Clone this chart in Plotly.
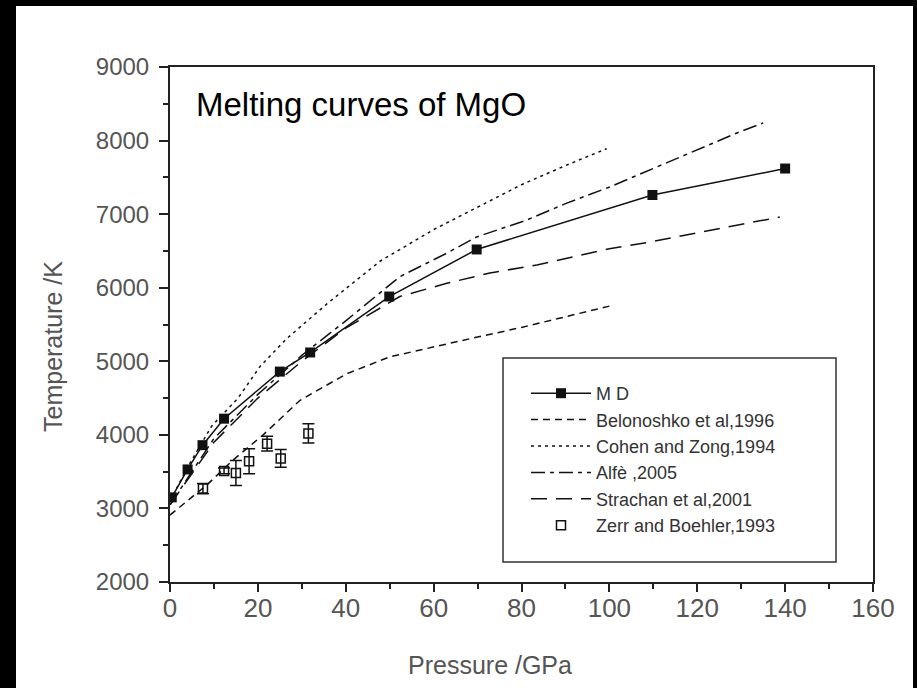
import plotly.graph_objects as go

# ---------------- data ----------------
md_p = [0.4, 4.0, 7.4, 12.3, 25.0, 31.9, 49.9, 69.8, 109.8, 140.0]
md_t = [3150, 3530, 3860, 4220, 4860, 5120, 5880, 6520, 7260, 7620]

bel_p = [0, 8.4, 14.4, 21.2, 29.6, 40.2, 50, 60, 70, 80, 90, 100]
bel_t = [2910, 3320, 3660, 4000, 4470, 4830, 5060, 5200, 5330, 5460, 5600, 5750]

coh_p = [0, 4, 9.5, 15.5, 20.5, 26.6, 35.7, 47.8, 60, 70, 80, 90, 99.4]
coh_t = [3100, 3560, 4120, 4500, 4930, 5310, 5780, 6360, 6790, 7100, 7400, 7660, 7890]

alf_p = [0, 10, 20, 30, 40, 52.3, 63, 69.8, 81.2, 90.3, 100.1, 110, 119.9, 129.7, 135]
alf_t = [3050, 3950, 4550, 5080, 5550, 6150, 6470, 6690, 6920, 7150, 7370, 7620, 7870, 8120, 8240]

str_p = [0, 10, 20, 30, 40, 52.3, 63, 72.8, 83.5, 91.8, 100, 109.2, 119.1, 129, 138.8]
str_t = [3050, 3900, 4500, 5000, 5450, 5880, 6060, 6200, 6310, 6420, 6530, 6620, 6740, 6850, 6960]

zer_p = [7.5, 12.3, 15.0, 18.0, 22.1, 25.2, 31.5]
zer_t = [3270, 3510, 3480, 3640, 3880, 3680, 4020]
zer_e = [70, 40, 170, 170, 100, 120, 130]

x_ticks = [0, 20, 40, 60, 80, 100, 120, 140, 160]
y_ticks = [2000, 3000, 4000, 5000, 6000, 7000, 8000, 9000]

title_text = "Melting curves of MgO"
x_title = "Pressure /GPa"
y_title = "Temperature /K"

# ---------------- figure ----------------
INK = "#111111"
SANS = "Liberation Sans, Arial, sans-serif"
fig = go.Figure()

fig.add_trace(go.Scatter(
    x=md_p, y=md_t, name="M D", mode="lines+markers",
    line=dict(color=INK, width=1.5),
    marker=dict(symbol="square", size=10, color=INK)))
fig.add_trace(go.Scatter(
    x=bel_p, y=bel_t, name="Belonoshko et al,1996", mode="lines",
    line=dict(color=INK, width=1.5, dash="7px,5px")))
fig.add_trace(go.Scatter(
    x=coh_p, y=coh_t, name="Cohen and Zong,1994", mode="lines",
    line=dict(color=INK, width=1.5, dash="3px,4px")))
fig.add_trace(go.Scatter(
    x=alf_p, y=alf_t, name="Alfè ,2005", mode="lines",
    line=dict(color=INK, width=1.5, dash="14px,5px,4px,5px")))
fig.add_trace(go.Scatter(
    x=str_p, y=str_t, name="Strachan et al,2001", mode="lines",
    line=dict(color=INK, width=1.5, dash="16px,9px")))
fig.add_trace(go.Scatter(
    x=zer_p, y=zer_t, name="Zerr and Boehler,1993", mode="markers",
    marker=dict(symbol="square-open", size=9, color=INK, line=dict(width=1.5)),
    error_y=dict(type="data", array=zer_e, visible=True, color=INK,
                 thickness=1.5, width=6)))

fig.update_xaxes(
    range=[0, 160], tickvals=x_ticks, ticktext=[str(v) for v in x_ticks],
    showgrid=False, zeroline=False, showline=True, linecolor="#222", linewidth=2,
    mirror=True, ticks="outside", ticklen=8, tickwidth=1.5, tickcolor="#222",
    minor=dict(ticks="outside", ticklen=5, dtick=10, tickwidth=1.5, tickcolor="#222"),
    tickfont=dict(family=SANS, size=26, color="#555555"), ticklabelstandoff=-6)
fig.update_yaxes(
    range=[2000, 9000], tickvals=y_ticks, ticktext=[str(v) for v in y_ticks],
    showgrid=False, zeroline=False, showline=True, linecolor="#222", linewidth=2,
    mirror=True, ticks="outside", ticklen=9, tickwidth=1.5, tickcolor="#222",
    minor=dict(ticks="outside", ticklen=5, dtick=500, tickwidth=1.5, tickcolor="#222"),
    tickfont=dict(family=SANS, size=24, color="#555555"), ticklabelstandoff=5)

W, H = 917, 688
L, R, T, B = 170, 44, 67, 106
pw, ph = W - L - R, H - T - B

def px(xp):
    return (xp - L) / pw

def py(yp):
    return (H - B - yp) / ph

shapes = [
    # white page inside the black frame
    dict(type="rect", xref="paper", yref="paper", layer="below",
         x0=px(16), x1=px(913), y0=py(700), y1=py(6),
         fillcolor="white", line=dict(width=0)),
    # legend box
    dict(type="rect", xref="paper", yref="paper", layer="above",
         x0=px(503), x1=px(836), y0=py(562), y1=py(358),
         fillcolor="rgba(0,0,0,0)", line=dict(color="#333", width=1.5)),
]

annotations = [
    dict(text=title_text, xref="paper", yref="paper", x=px(194), y=py(104),
         xanchor="left", yanchor="middle", showarrow=False,
         font=dict(family=SANS, size=33, color="#000")),
    dict(text=x_title, xref="paper", yref="paper", x=px(490), y=py(665),
         xanchor="center", yanchor="middle", showarrow=False,
         font=dict(family=SANS, size=25, color="#555")),
    dict(text=y_title, xref="paper", yref="paper", x=px(53), y=py(347),
         xanchor="center", yanchor="middle", showarrow=False, textangle=-90,
         font=dict(family=SANS, size=25, color="#555")),
]

fig.update_layout(
    width=W, height=H,
    margin=dict(l=L, r=R, t=T, b=B),
    paper_bgcolor="black", plot_bgcolor="white",
    showlegend=True,
    legend=dict(x=px(526), y=py(375), xanchor="left", yanchor="top",
                bgcolor="rgba(0,0,0,0)", borderwidth=0,
                font=dict(family=SANS, size=18, color="#333"),
                itemwidth=60, tracegroupgap=0),
    shapes=shapes, annotations=annotations,
)

fig.write_html("out.html",
               config={"displayModeBar": False},
               post_script="document.body.style.margin='0';document.body.style.background='black';")
